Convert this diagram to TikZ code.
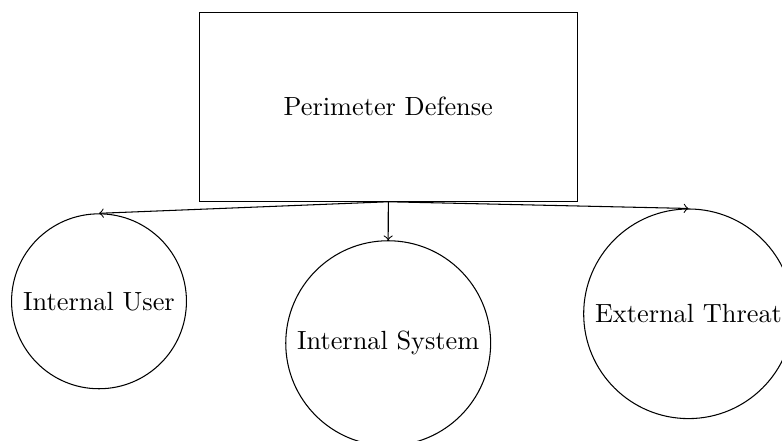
\documentclass[tikz,border=0pt]{standalone}
\begin{document}
\begin{tikzpicture}[x=0.3802pt,y=-0.3802pt,
  box/.style={draw,rectangle,inner sep=0pt,minimum width=143.7pt,minimum height=71.9pt},
  circ/.style={draw,circle,inner sep=0pt},
  conn/.style={->}]
\useasboundingbox (0,0) rectangle (782,441);
\clip (0,0) rectangle (782,441);
\node[box] (pd) at (388.3,106.7) {Perimeter Defense};
\node[circ,minimum size=66.5pt] (iu) at (99,301.3) {Internal User};
\node[circ,minimum size=77.9pt] (is) at (388.2,343.2) {Internal System};
\node[circ,minimum size=79.7pt] (et) at (688.5,313.8) {External Threat};
\draw[conn] (pd.south) -- (iu.north);
\draw[conn] (pd.south) -- (is.north);
\draw[conn] (pd.south) -- (et.north);
\end{tikzpicture}
\end{document}
